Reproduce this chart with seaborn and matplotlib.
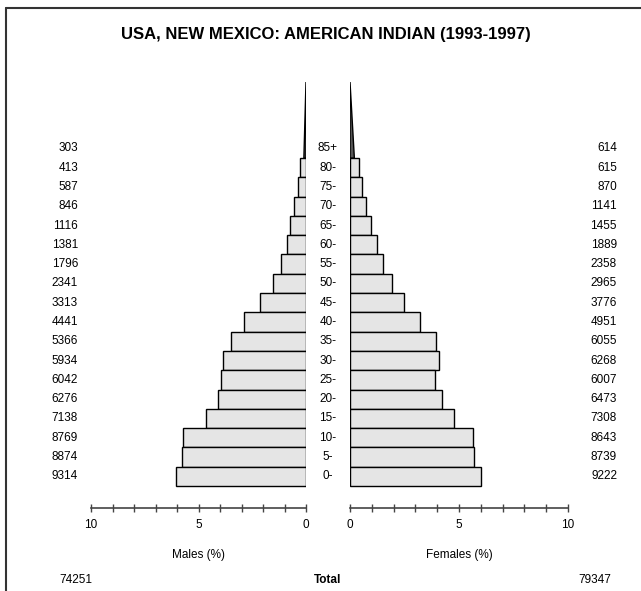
import matplotlib
matplotlib.use("Agg")
import matplotlib.pyplot as plt
import matplotlib.transforms as mtransforms
from matplotlib.lines import Line2D
import seaborn as sns
import pandas as pd

ages = ["0-", "5-", "10-", "15-", "20-", "25-", "30-", "35-", "40-", "45-",
        "50-", "55-", "60-", "65-", "70-", "75-", "80-", "85+"]
males = [9314, 8874, 8769, 7138, 6276, 6042, 5934, 5366, 4441, 3313,
         2341, 1796, 1381, 1116, 846, 587, 413, 303]
females = [9222, 8739, 8643, 7308, 6473, 6007, 6268, 6055, 4951, 3776,
           2965, 2358, 1889, 1455, 1141, 870, 615, 614]
male_total = 74251
female_total = 79347
title = "USA, NEW MEXICO: AMERICAN INDIAN (1993-1997)"

sns.set_style("white")
plt.rcParams["font.family"] = ["Liberation Sans", "DejaVu Sans"]
plt.rcParams["text.color"] = "black"
plt.rcParams["xtick.color"] = "#444444"
plt.rcParams["xtick.labelcolor"] = "black"

grand = male_total + female_total
dfM = pd.DataFrame({"age": ages, "pct": [v / grand * 100 for v in males]})
dfF = pd.DataFrame({"age": ages, "pct": [v / grand * 100 for v in females]})
order = ages[:-1][::-1]  # 80- at top ... 0- at bottom

W, H = 641, 591
fig = plt.figure(figsize=(W / 100, H / 100), dpi=100)
ax_top, ax_bot = 82, 508
axL = fig.add_axes([91 / W, (H - ax_bot) / H, (306 - 91) / W, (ax_bot - ax_top) / H])
axR = fig.add_axes([350 / W, (H - ax_bot) / H, (568 - 350) / W, (ax_bot - ax_top) / H])

fill = "#e5e5e5"
n = len(order)
y_bottom = n - 0.5 + 1.14
y_top = -0.5 - 3.94

for ax, df, xl in [(axL, dfM, (10, 0)), (axR, dfF, (0, 10))]:
    sub = df[df["age"].isin(order)]
    sns.barplot(data=sub, x="pct", y="age", order=order, orient="h", width=1,
                color=fill, saturation=1, edgecolor="black", linewidth=1.0, ax=ax)
    last = df[df["age"] == "85+"]["pct"].iloc[0]
    ax.fill([0, last / 2, 0], [-0.5, -0.5, y_top], facecolor="#555555",
            edgecolor="black", lw=1.0)
    ax.set_xlim(*xl)
    ax.set_ylim(y_bottom, y_top)
    for s in ["top", "left", "right"]:
        ax.spines[s].set_visible(False)
    ax.spines["bottom"].set_color("#444444")
    ax.spines["bottom"].set_linewidth(1.2)
    ax.set_xticks(range(0, 11))
    ax.set_xticklabels([str(t) if t % 5 == 0 else "" for t in range(0, 11)], fontsize=8.5)
    ax.tick_params(axis="x", bottom=True, direction="inout", length=6, width=1,
                   color="#444444", labelcolor="black", pad=5)
    ax.set_yticks([])
    ax.set_xlabel("")
    ax.set_ylabel("")
    ax.patch.set_alpha(0)

# labels: age groups and counts
tr = mtransforms.blended_transform_factory(fig.transFigure, axL.transData)
for i, age in enumerate(ages):
    ypos = (n - 1 - i) if age != "85+" else -1
    fig.text(328 / W, ypos, age, transform=tr, ha="center", va="center", fontsize=8.5)
    fig.text(78 / W, ypos, str(males[i]), transform=tr, ha="right", va="center", fontsize=8.5)
    fig.text(617 / W, ypos, str(females[i]), transform=tr, ha="right", va="center", fontsize=8.5)

fig.text(326 / W, 1 - 35 / H, title, ha="center", va="center", fontsize=12, fontweight="bold")
fig.text(198 / W, 1 - 555 / H, "Males (%)", ha="center", va="center", fontsize=8.5)
fig.text(459 / W, 1 - 555 / H, "Females (%)", ha="center", va="center", fontsize=8.5)
fig.text(328 / W, 1 - 580 / H, "Total", ha="center", va="center", fontsize=8.5, fontweight="bold")
fig.text(76 / W, 1 - 580 / H, str(male_total), ha="center", va="center", fontsize=8.5)
fig.text(595 / W, 1 - 580 / H, str(female_total), ha="center", va="center", fontsize=8.5)

# frame
fig.add_artist(Line2D([6 / W, 6 / W], [0, 1 - 8 / H], color="#333333", lw=1.5))
fig.add_artist(Line2D([6 / W, 1], [1 - 8 / H, 1 - 8 / H], color="#333333", lw=1.5))

fig.savefig("out.png", dpi=100)
